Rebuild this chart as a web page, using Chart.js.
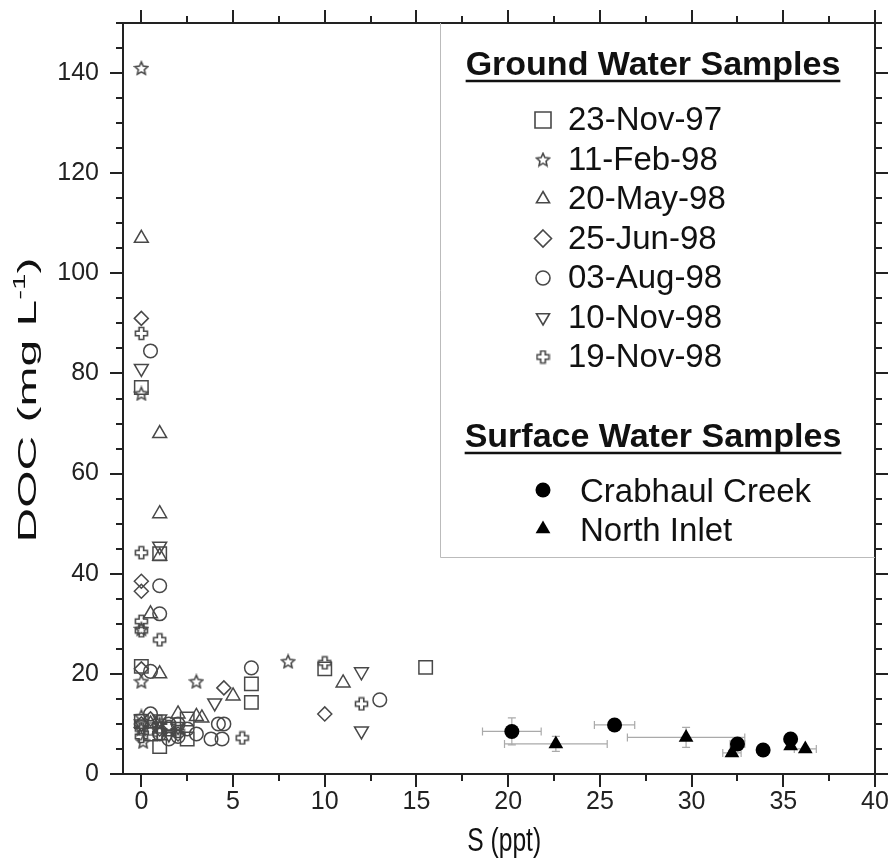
<!DOCTYPE html>
<html>
<head>
<meta charset="utf-8">
<title>DOC vs salinity</title>
<script src="https://cdn.jsdelivr.net/npm/chart.js@4.4.1/dist/chart.umd.min.js"></script>
<style>
  html, body { margin: 0; padding: 0; background: #fff; }
  #wrap { width: 889px; height: 861px; position: relative; }
</style>
</head>
<body>
<div id="wrap"><canvas id="docChart"></canvas></div>
<script>
// axes
const xTicks = [0, 5, 10, 15, 20, 25, 30, 35, 40];
const yTicks = [0, 20, 40, 60, 80, 100, 120, 140];
const xMinor = [0, 2.5, 5, 7.5, 10, 12.5, 15, 17.5, 20, 22.5, 25, 27.5, 30, 32.5, 35, 37.5, 40];
const yMinor = [0, 5, 10, 15, 20, 25, 30, 35, 40, 45, 50, 55, 60, 65, 70, 75, 80, 85, 90, 95, 100,
                105, 110, 115, 120, 125, 130, 135, 140, 145, 150];

// ground water samples
const nov97X = [0, 0, 0, 0.5, 1, 1, 1.5, 2.5, 2.5, 6, 6, 10, 15.5];
const nov97Y = [77.2, 21.5, 10.5, 8, 44, 5.5, 9, 7, 11, 18, 14.3, 21, 21.3];

const feb98X = [0, 0, 0, 0, 0, 0, 0.1, 1, 3, 8];
const feb98Y = [141, 76, 29, 18.5, 11.5, 9, 6.5, 10, 18.5, 22.5];

const may98X = [0, 1, 1, 1, 0.5, 1, 0.5, 2, 1, 3, 3.3, 5, 11];
const may98Y = [107, 68, 52, 43.5, 32, 20, 10, 12, 9, 11.5, 11.2, 15.6, 18.2];

const jun98X = [0, 0, 0, 0, 0, 1, 2, 0.5, 4.5, 10];
const jun98Y = [91, 38.5, 36.5, 21, 10, 9, 8, 11, 17.2, 12];

const aug98X = [0.5, 1, 1, 0.5, 0.5, 1.5, 2, 2, 1, 3, 1.5, 2.5, 4.2, 4.5, 4.4, 3.8, 6, 13];
const aug98Y = [84.5, 37.6, 32, 20.5, 12, 10, 10, 7.5, 8, 8, 7, 9, 10, 10, 7, 7, 21.2, 14.8];

const nov98aX = [0, 1, 0, 1, 1.5, 2, 4, 12, 12];
const nov98aY = [81, 45.5, 10, 11, 8, 9.5, 14.2, 20.4, 8.6];

const nov98bX = [0, 0, 0, 0, 1, 0, 0, 0.5, 1, 1, 2, 1.5, 5.5, 10, 12];
const nov98bY = [88, 44.2, 30.5, 28.6, 26.8, 9, 7.5, 9, 8, 10.5, 8.5, 9.5, 7.2, 22.2, 14];

// surface water samples (with error bars)
const crabX = [20.2, 25.8, 32.5, 33.9, 35.4];
const crabY = [8.5, 9.8, 6, 4.8, 7];
const crabXErr = [1.6, 1.1, 0.4, 0, 0];
const crabYErr = [2.7, 1, 0.6, 0, 0.5];

const inletX = [22.6, 29.7, 32.2, 35.4, 36.2];
const inletY = [6, 7.3, 4.2, 5.6, 5];
const inletXErr = [2.8, 3.2, 0.5, 0, 0.6];
const inletYErr = [1.5, 2, 0.5, 0.5, 0.3];

const sans = "'Liberation Sans', Arial, sans-serif";
const grey = '#484848';

function makeStar(size, color) {
    const c = document.createElement('canvas');
    c.width = c.height = size;
    const g = c.getContext('2d');
    const cx = size / 2, cy = size / 2 + 0.7;
    const r1 = size / 2 - 1.2, r2 = r1 * 0.47;
    g.beginPath();
    for (let k = 0; k < 10; k++) {
        const r = k % 2 ? r2 : r1;
        const a = -Math.PI / 2 + k * Math.PI / 5;
        g.lineTo(cx + r * Math.cos(a), cy + r * Math.sin(a));
    }
    g.closePath();
    g.strokeStyle = color;
    g.lineWidth = 1.6;
    g.stroke();
    return c;
}

function makePlus(size, color) {
    const c = document.createElement('canvas');
    c.width = c.height = size;
    const g = c.getContext('2d');
    const cx = size / 2, cy = size / 2;
    const a = size / 2 - 1.5, w = a * 0.38;
    const pts = [[-w, -a], [w, -a], [w, -w], [a, -w], [a, w], [w, w], [w, a], [-w, a],
                 [-w, w], [-a, w], [-a, -w], [-w, -w]];
    g.beginPath();
    pts.forEach(p => g.lineTo(cx + p[0], cy + p[1]));
    g.closePath();
    g.strokeStyle = color;
    g.lineWidth = 1.6;
    g.stroke();
    return c;
}

const starImg = makeStar(16, grey);
const plusImg = makePlus(15, grey);

function pts(xs, ys) {
    return xs.map((x, i) => ({ x: x, y: ys[i] }));
}

function hollow(label, xs, ys, style, radius, rotation) {
    return {
        label: label,
        data: pts(xs, ys),
        pointStyle: style,
        pointRadius: radius,
        pointHoverRadius: radius,
        pointRotation: rotation || 0,
        borderColor: grey,
        backgroundColor: 'rgba(0,0,0,0)',
        pointBorderWidth: 1.5,
        showLine: false
    };
}

const datasets = [
    hollow('23-Nov-97', nov97X, nov97Y, 'rect', 9.5),
    hollow('11-Feb-98', feb98X, feb98Y, starImg, 7),
    hollow('20-May-98', may98X, may98Y, 'triangle', 8),
    hollow('25-Jun-98', jun98X, jun98Y, 'rectRot', 7),
    hollow('03-Aug-98', aug98X, aug98Y, 'circle', 6.8),
    hollow('10-Nov-98', nov98aX, nov98aY, 'triangle', 8, 180),
    hollow('19-Nov-98', nov98bX, nov98bY, plusImg, 7),
    {
        label: 'Crabhaul Creek',
        data: pts(crabX, crabY),
        errX: crabXErr, errY: crabYErr,
        pointStyle: 'circle', pointRadius: 7.5, pointHoverRadius: 7.5,
        backgroundColor: '#000', borderColor: '#000', pointBorderWidth: 0,
        showLine: false
    },
    {
        label: 'North Inlet',
        data: pts(inletX, inletY),
        errX: inletXErr, errY: inletYErr,
        pointStyle: 'triangle', pointRadius: 8.5, pointHoverRadius: 8.5,
        backgroundColor: '#000', borderColor: '#000', pointBorderWidth: 0,
        showLine: false
    }
];

// error bars under the surface water markers
const errorBars = {
    id: 'errorBars',
    beforeDatasetsDraw(chart) {
        const ctx = chart.ctx;
        const xs = chart.scales.x, ys = chart.scales.y;
        ctx.save();
        ctx.strokeStyle = '#aaa';
        ctx.lineWidth = 1.2;
        chart.data.datasets.forEach(ds => {
            if (!ds.errX) return;
            ds.data.forEach((p, i) => {
                const px = xs.getPixelForValue(p.x), py = ys.getPixelForValue(p.y);
                const ex = ds.errX[i], ey = ds.errY[i];
                ctx.beginPath();
                if (ex > 0) {
                    const x1 = xs.getPixelForValue(p.x - ex), x2 = xs.getPixelForValue(p.x + ex);
                    ctx.moveTo(x1, py); ctx.lineTo(x2, py);
                    ctx.moveTo(x1, py - 4); ctx.lineTo(x1, py + 4);
                    ctx.moveTo(x2, py - 4); ctx.lineTo(x2, py + 4);
                }
                if (ey > 0) {
                    const y1 = ys.getPixelForValue(p.y - ey), y2 = ys.getPixelForValue(p.y + ey);
                    ctx.moveTo(px, y1); ctx.lineTo(px, y2);
                    ctx.moveTo(px - 4, y1); ctx.lineTo(px + 4, y1);
                    ctx.moveTo(px - 4, y2); ctx.lineTo(px + 4, y2);
                }
                ctx.stroke();
            });
        });
        ctx.restore();
    }
};

// frame, tick marks on all four sides, axis titles
const frameAndTicks = {
    id: 'frameAndTicks',
    afterDraw(chart) {
        const ctx = chart.ctx;
        const a = chart.chartArea;
        const xs = chart.scales.x, ys = chart.scales.y;
        ctx.save();
        ctx.strokeStyle = '#222';
        ctx.lineWidth = 2;
        ctx.strokeRect(a.left, a.top, a.right - a.left, a.bottom - a.top);
        ctx.beginPath();
        xMinor.forEach(v => {
            const len = xTicks.includes(v) ? 13 : 7;
            const px = Math.round(xs.getPixelForValue(v));
            ctx.moveTo(px, a.bottom); ctx.lineTo(px, a.bottom + len);
            ctx.moveTo(px, a.top); ctx.lineTo(px, a.top - len);
        });
        yMinor.forEach(v => {
            const len = yTicks.includes(v) ? 13 : 7;
            const py = Math.round(ys.getPixelForValue(v));
            ctx.moveTo(a.left, py); ctx.lineTo(a.left - len, py);
            ctx.moveTo(a.right, py); ctx.lineTo(a.right + len, py);
        });
        ctx.stroke();

        // x title (the source figure is stretched vertically)
        ctx.fillStyle = '#111';
        ctx.textAlign = 'center';
        ctx.textBaseline = 'alphabetic';
        ctx.save();
        ctx.translate(xs.getPixelForValue(20) - 4, 851);
        ctx.scale(0.85, 1.15);
        ctx.font = '29px ' + sans;
        ctx.fillText('S (ppt)', 0, 0);
        ctx.restore();

        // y title with superscript, stretched along its length
        ctx.translate(27, 400);
        ctx.rotate(-Math.PI / 2);
        const mainTxt = 'DOC (mg L', supTxt = '-1', endTxt = ')';
        ctx.font = '26px ' + sans;
        const w1 = ctx.measureText(mainTxt).width, w3 = ctx.measureText(endTxt).width;
        ctx.font = '16px ' + sans;
        const w2 = ctx.measureText(supTxt).width;
        const total = w1 + w2 + w3;
        ctx.scale(285 / total, 1);
        const x0 = -total / 2;
        ctx.textAlign = 'left';
        ctx.font = '26px ' + sans;
        ctx.fillText(mainTxt, x0, 9);
        ctx.font = '16px ' + sans;
        ctx.fillText(supTxt, x0 + w1, -2);
        ctx.font = '26px ' + sans;
        ctx.fillText(endTxt, x0 + w1 + w2, 9);
        ctx.restore();
    }
};

function drawSymbol(ctx, ds, x, y, r) {
    const st = ds.pointStyle;
    if (st instanceof HTMLCanvasElement) {
        ctx.drawImage(st, x - st.width / 2, y - st.height / 2);
        return;
    }
    ctx.beginPath();
    if (st === 'rect') {
        ctx.rect(x - r, y - r, 2 * r, 2 * r);
    } else if (st === 'rectRot') {
        ctx.moveTo(x, y - r); ctx.lineTo(x + r, y); ctx.lineTo(x, y + r); ctx.lineTo(x - r, y);
        ctx.closePath();
    } else if (st === 'circle') {
        ctx.arc(x, y, r, 0, Math.PI * 2);
    } else if (st === 'triangle') {
        const s = ds.pointRotation === 180 ? -1 : 1;
        ctx.moveTo(x, y - s * r);
        ctx.lineTo(x + r * 0.87, y + s * r * 0.5);
        ctx.lineTo(x - r * 0.87, y + s * r * 0.5);
        ctx.closePath();
    }
    if (ds.backgroundColor !== 'rgba(0,0,0,0)') {
        ctx.fillStyle = ds.backgroundColor;
        ctx.fill();
    } else {
        ctx.strokeStyle = grey;
        ctx.lineWidth = 1.6;
        ctx.stroke();
    }
}

// custom legend box
const legendBox = {
    id: 'legendBox',
    afterDraw(chart) {
        const ctx = chart.ctx;
        const a = chart.chartArea;
        const dss = chart.data.datasets;
        ctx.save();
        ctx.strokeStyle = '#bbb';
        ctx.lineWidth = 1;
        ctx.beginPath();
        ctx.moveTo(440.5, a.top); ctx.lineTo(440.5, 557.5); ctx.lineTo(a.right, 557.5);
        ctx.stroke();

        ctx.fillStyle = '#111';
        ctx.strokeStyle = '#111';
        ctx.textAlign = 'left';
        ctx.textBaseline = 'alphabetic';
        const heading = (txt, y) => {
            ctx.font = 'bold 34px ' + sans;
            const w = ctx.measureText(txt).width;
            const x = 653 - w / 2;
            ctx.fillText(txt, x, y);
            ctx.lineWidth = 2.5;
            ctx.beginPath();
            ctx.moveTo(x, y + 6); ctx.lineTo(x + w, y + 6);
            ctx.stroke();
        };
        heading('Ground Water Samples', 75);
        heading('Surface Water Samples', 447);

        const radii = [8, 6, 7.5, 8.5, 7, 7.5, 6];
        for (let i = 0; i < 7; i++) {
            const base = 130 + i * 39.5;
            drawSymbol(ctx, dss[i], 543, base - 10, radii[i]);
            ctx.fillStyle = '#111';
            ctx.font = '33px ' + sans;
            ctx.fillText(dss[i].label, 568, base);
        }
        drawSymbol(ctx, dss[7], 543, 490, 7.5);
        drawSymbol(ctx, dss[8], 543, 529, 8.5);
        ctx.fillStyle = '#111';
        ctx.font = '33px ' + sans;
        ctx.fillText(dss[7].label, 580, 502);
        ctx.fillText(dss[8].label, 580, 541);
        ctx.restore();
    }
};

document.addEventListener('DOMContentLoaded', function() {
    const ctx = document.getElementById('docChart');
    new Chart(ctx, {
        type: 'scatter',
        data: { datasets: datasets },
        options: {
            responsive: true,
            maintainAspectRatio: false,
            animation: false,
            events: [],
            layout: { padding: { top: 23, right: 14, left: 0, bottom: 0 } },
            plugins: {
                legend: { display: false },
                tooltip: { enabled: false }
            },
            scales: {
                x: {
                    type: 'linear',
                    min: -1,
                    max: 40,
                    afterFit: s => {
                        s.height = 87;
                        s.paddingLeft = 0;
                        s.paddingRight = 0;
                    },
                    afterBuildTicks: s => { s.ticks = xTicks.map(v => ({ value: v })); },
                    grid: { display: false, drawTicks: false },
                    border: { display: false },
                    ticks: {
                        padding: 13,
                        maxRotation: 0,
                        autoSkip: false,
                        color: '#222',
                        font: { family: sans, size: 25 }
                    }
                },
                y: {
                    type: 'linear',
                    min: 0,
                    max: 150,
                    afterFit: s => {
                        s.width = 123;
                        s.paddingTop = 0;
                        s.paddingBottom = 0;
                    },
                    afterBuildTicks: s => { s.ticks = yTicks.map(v => ({ value: v })); },
                    grid: { display: false, drawTicks: false },
                    border: { display: false },
                    ticks: {
                        padding: 24,
                        autoSkip: false,
                        color: '#222',
                        font: { family: sans, size: 25 }
                    }
                }
            }
        },
        plugins: [errorBars, frameAndTicks, legendBox]
    });
});
</script>
</body>
</html>
